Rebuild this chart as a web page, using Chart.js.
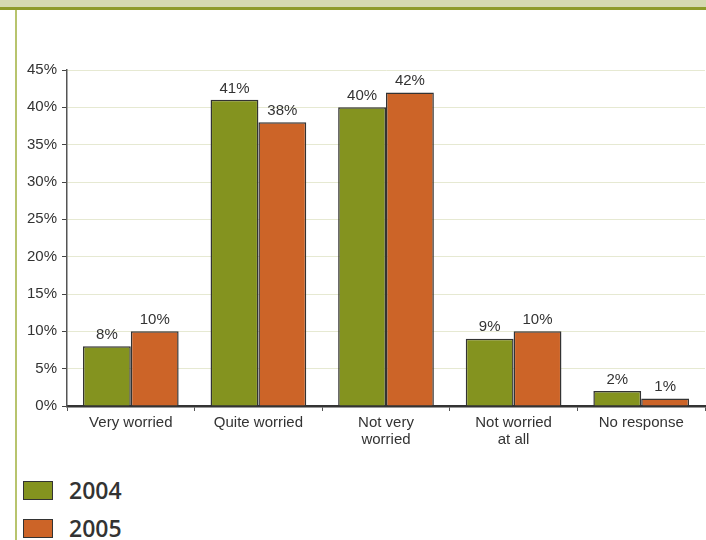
<!DOCTYPE html>
<html>
<head>
<meta charset="utf-8">
<script src="https://cdn.jsdelivr.net/npm/chart.js@4"></script>
<style>
  html, body { margin: 0; padding: 0; background: #fff; }
  body { width: 706px; height: 540px; position: relative; overflow: hidden; }
  #band { position: absolute; left: 0; top: 0; width: 706px; height: 7px; background: #d5d9b0; border-bottom: 3px solid #8e9b2a; }
  #leftLine { position: absolute; left: 15px; top: 10px; width: 2px; height: 530px; background: #b8c46e; }
  #wrap { position: absolute; left: 0; top: 0; width: 706px; height: 460px; }
  #legend { position: absolute; left: 23px; top: 471px; font-family: "Open Sans", sans-serif; font-weight: 600; font-size: 23px; color: #333; }
  .item { display: flex; align-items: center; height: 38px; }
  .box { width: 28px; height: 17px; border: 1px solid #333; margin-right: 16px; }
</style>
</head>
<body>
<div id="band"></div>
<div id="leftLine"></div>
<div id="wrap"><canvas id="chart"></canvas></div>
<div id="legend"></div>
<script>
"use strict";

const categories = ["Very worried", "Quite worried", ["Not very", "worried"], ["Not worried", "at all"], "No response"];
const seriesNames = ["2004", "2005"];
const values2004 = [8, 41, 40, 9, 2];
const values2005 = [10, 38, 42, 10, 1];
const seriesColors = ["#84931f", "#cc6428"];

const labelFont = "'Liberation Sans', Arial, sans-serif";

const valueLabels = {
  id: "valueLabels",
  afterDatasetsDraw(chart) {
    const ctx = chart.ctx;
    ctx.save();
    ctx.font = "15px " + labelFont;
    ctx.fillStyle = "#333";
    ctx.textAlign = "center";
    ctx.textBaseline = "bottom";
    chart.data.datasets.forEach(function (ds, i) {
      chart.getDatasetMeta(i).data.forEach(function (bar, j) {
        ctx.fillText(ds.data[j] + "%", bar.x, bar.y - 4);
      });
    });
    ctx.restore();
  }
};

const ctx = document.getElementById("chart").getContext("2d");

const chart = new Chart(ctx, {
  type: "bar",
  data: {
    labels: categories,
    datasets: [
      {
        label: seriesNames[0],
        data: values2004,
        backgroundColor: seriesColors[0],
        borderColor: "#333",
        borderWidth: 1.5,
        borderSkipped: "bottom",
        categoryPercentage: 0.75,
        barPercentage: 1,
      },
      {
        label: seriesNames[1],
        data: values2005,
        backgroundColor: seriesColors[1],
        borderColor: "#333",
        borderWidth: 1.5,
        borderSkipped: "bottom",
        categoryPercentage: 0.75,
        barPercentage: 1,
      },
    ],
  },
  options: {
    responsive: true,
    maintainAspectRatio: false,
    animation: false,
    layout: { padding: { top: 70, right: 1, left: 0, bottom: 0 } },
    plugins: {
      legend: { display: false },
      tooltip: { enabled: false },
    },
    scales: {
      x: {
        grid: { display: true, offset: true, drawOnChartArea: false, tickLength: 5, tickColor: "#555" },
        border: { color: "#333", width: 2.5 },
        ticks: {
          color: "#333",
          padding: 4,
          maxRotation: 0,
          font: { family: labelFont, size: 15, lineHeight: 1.1 },
        },
        afterFit: function (scale) { scale.height = 54; },
      },
      y: {
        min: 0,
        max: 45,
        ticks: {
          stepSize: 5,
          color: "#333",
          padding: 5,
          font: { family: labelFont, size: 15 },
          callback: function (v) { return v + "%"; },
        },
        grid: { color: "#e6e9d2", tickColor: "#444", tickLength: 5 },
        border: { color: "#555", width: 1.5 },
        afterFit: function (scale) { scale.width = 67; },
      },
    },
  },
  plugins: [valueLabels],
});

const legendEl = document.getElementById("legend");
for (let i = 0; i < seriesNames.length; i++) {
  const item = document.createElement("div");
  item.className = "item";
  item.innerHTML = `<span class="box" style="background:${seriesColors[i]}"></span><span>${seriesNames[i]}</span>`;
  legendEl.appendChild(item);
}
</script>
</body>
</html>
